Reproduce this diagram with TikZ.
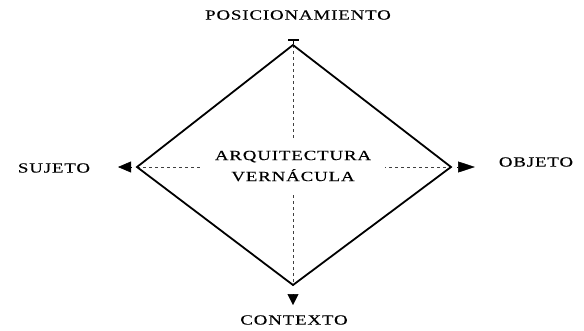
\documentclass[tikz,border=0pt]{standalone}
\usepackage{fontspec}
\setmainfont{Liberation Serif}
\newfontfamily\widefont[FakeStretch=1.35,LetterSpace=6,FakeBold=0.2]{Liberation Serif}
\usetikzlibrary{arrows.meta}
\begin{document}
\begin{tikzpicture}[x=1pt,y=-1pt,
  lbl/.style={font=\widefont\fontsize{14}{16}\selectfont, inner sep=0pt},
  edge/.style={line width=1.8pt, line join=miter},
  guide/.style={line width=0.8pt, dash pattern=on 3pt off 3pt, black!75},
  tip/.style={-{Triangle[length=#1,width=11pt]}, line width=0.5pt}]
\useasboundingbox (0,0) rectangle (584,330);
\coordinate (T) at (293,45);
\coordinate (B) at (293,285);
\coordinate (L) at (137,167);
\coordinate (R) at (451,167);
\coordinate (C) at (293,166);
% dashed cross
\draw[guide] (T) -- (B);
\draw[guide] (L) -- (R);
% diamond
\draw[edge] (T) -- (R) -- (B) -- (L) -- cycle;
% centre text
\node[lbl, fill=white, inner xsep=14pt, inner ysep=11pt, align=center] (mid) at (C)
  {ARQUITECTURA\\[5pt]VERNÁCULA};
% arrow tips
\coordinate (ls) at (131,167); \coordinate (le) at (118,167);
\coordinate (rs) at (457,167); \coordinate (re) at (475,167);
\coordinate (bs) at (293,294); \coordinate (be) at (293,305);
\coordinate (ts) at (293,44);  \coordinate (te) at (293,38.5);
\draw[tip=13pt] (ls) -- (le);
\draw[tip=17pt] (rs) -- (re);
\draw[tip=11pt] (bs) -- (be);
\draw[-{Rectangle[length=2.2pt,width=11pt]}, line width=0.8pt] (ts) -- (te);
% labels
\node[lbl] (pos) at (298,15) {POSICIONAMIENTO};
\node[lbl] (suj) at (54,168) {SUJETO};
\node[lbl] (obj) at (536,162) {OBJETO};
\node[lbl] (con) at (294,320) {CONTEXTO};
\end{tikzpicture}
\end{document}
